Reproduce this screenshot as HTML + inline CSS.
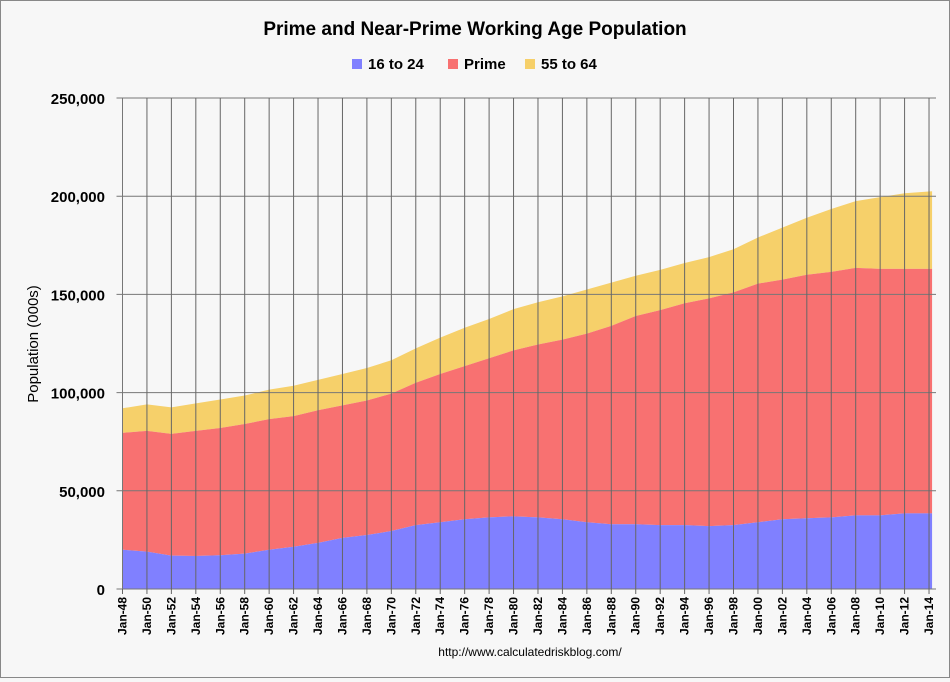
<!DOCTYPE html>
<html><head><meta charset="utf-8"><style>
html,body{margin:0;padding:0;background:#f7f7f7;}
#wrap{position:relative;width:948px;height:676px;border:1px solid #888;background:#f7f7f7;font-family:"Liberation Sans",Arial,sans-serif;}
svg text{font-family:"Liberation Sans",Arial,sans-serif;}
</style></head><body>
<div id="wrap">
<svg id="chart" width="948" height="676" xmlns="http://www.w3.org/2000/svg">
<text x="474" y="34" text-anchor="middle" font-size="19" font-weight="bold" fill="#000">Prime and Near-Prime Working Age Population</text>
<g>
<g><rect x="351" y="58" width="10" height="10" fill="#8080ff"/><text x="367" y="68" font-size="15" font-weight="bold">16 to 24</text></g>
<g><rect x="447" y="58" width="10" height="10" fill="#f87171"/><text x="463" y="68" font-size="15" font-weight="bold">Prime</text></g>
<g><rect x="524" y="58" width="10" height="10" fill="#f6d06a"/><text x="540" y="68" font-size="15" font-weight="bold">55 to 64</text></g>
</g>
<text transform="translate(37,343) rotate(-90)" text-anchor="middle" font-size="15">Population (000s)</text>
<text x="529" y="655" text-anchor="middle" font-size="12">http://www.calculatedriskblog.com/</text>
<g id="plot"></g>
</svg>
</div>
<script>
const years = [1948,1950,1952,1954,1956,1958,1960,1962,1964,1966,1968,1970,1972,1974,1976,1978,1980,1982,1984,1986,1988,1990,1992,1994,1996,1998,2000,2002,2004,2006,2008,2010,2012,2014.25];
const youth = [20000,19000,17000,16800,17200,18000,20000,21500,23500,26000,27500,29500,32500,34000,35500,36500,37000,36500,35500,34000,33000,33000,32500,32500,32000,32500,34000,35500,36000,36500,37500,37500,38500,38500];
const prime = [59500,61500,62000,63700,64800,66000,66500,66500,67500,67500,68500,70000,72500,75500,78000,81000,84500,88000,91500,96000,101000,106000,109500,113000,116000,118500,121500,122000,124000,125000,126000,125500,124500,124500];
const older = [12500,13500,13500,14000,14500,14500,15000,15500,15500,16000,16500,17000,17500,18500,19500,20000,21000,21500,22000,22500,22000,20500,20500,20500,21000,22000,23500,26500,29000,32000,34000,36500,38500,39500];
const yTicks = [0,50000,100000,150000,200000,250000];
const yTickLabels = ["0","50,000","100,000","150,000","200,000","250,000"];
const xTickYears = [];
for(let y=1948;y<=2014;y+=2) xTickYears.push(y);

const NS="http://www.w3.org/2000/svg";
const g=document.getElementById('plot');
const L=121.5,R=935,T=97,B=588;
const xs=y=>L+(y-1948)*12.22;
const ys=v=>B-(v/250000)*(B-T);
function mk(t,a){const e=document.createElementNS(NS,t);for(const k in a)e.setAttribute(k,a[k]);g.appendChild(e);return e;}

const c1=youth.map(v=>v);
const c2=youth.map((v,i)=>v+prime[i]);
const c3=c2.map((v,i)=>v+older[i]);
function area(top,bot,color,name){
  let d='M'+years.map((y,i)=>xs(y)+','+ys(top[i])).join(' L');
  for(let i=years.length-1;i>=0;i--) d+=' L'+xs(years[i])+','+ys(bot?bot[i]:0);
  d+='Z';
  const p=mk('path',{d:d,fill:color});
  
  
}
area(c3,c2,'#f6d06a','area-55-to-64');
area(c2,c1,'#f87171','area-prime');
area(c1,null,'#8080ff','area-16-to-24');

yTicks.forEach((v,i)=>{
  const ln=mk('line',{x1:L-6,x2:R,y1:ys(v),y2:ys(v),stroke:'#777','stroke-width':1});
  
  
  const t=mk('text',{x:104,y:ys(v)+6,'text-anchor':'end','font-size':15,'font-weight':'bold'});
  t.textContent=yTickLabels[i];
  
  
});
xTickYears.forEach(y=>{
  const x=xs(y);
  const ln=mk('line',{x1:x,x2:x,y1:T,y2:B+5,stroke:'#666','stroke-width':1});
  
  
  const t=mk('text',{transform:`translate(${x+4},${B+8}) rotate(-90)`,'text-anchor':'end','font-size':12,'font-weight':'bold'});
  t.textContent='Jan-'+String(y%100).padStart(2,'0');
  
  
});
const ax=mk('line',{x1:L,x2:L,y1:T,y2:B,stroke:'#777'});


</script>
</body></html>
